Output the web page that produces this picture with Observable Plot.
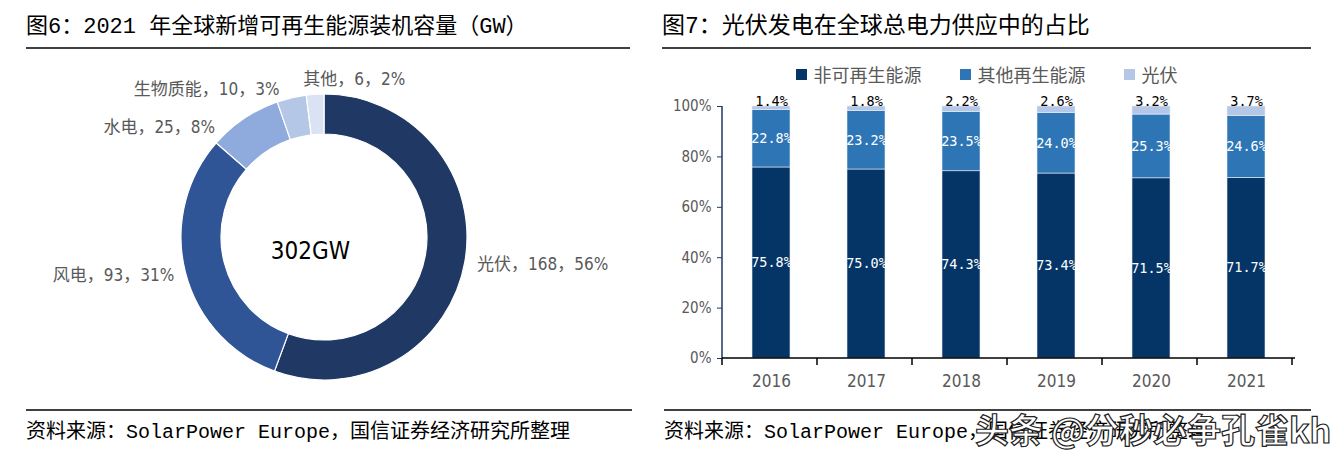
<!DOCTYPE html>
<html>
<head>
<meta charset="utf-8">
<script src="https://cdn.jsdelivr.net/npm/d3@7"></script>
<script src="https://cdn.jsdelivr.net/npm/@observablehq/plot@0.6"></script>
<style>
  html, body { margin: 0; padding: 0; background: #fff; }
  body { width: 1337px; height: 457px; position: relative; overflow: hidden;
         font-family: "DejaVu Sans Condensed", "Noto Sans CJK SC", sans-serif; }
  .abs { position: absolute; white-space: nowrap; line-height: 1; }
  .title { font-family: "Liberation Mono", "Noto Sans CJK SC", sans-serif; color: #000; }
  .rule { position: absolute; height: 2px; background: #404040; }
  .foot { font-family: "Liberation Mono", "Noto Sans CJK SC", sans-serif; font-size: 20px; color: #000; }
  .legend { display: flex; justify-content: center; align-items: center; gap: 38px;
            font-family: "Noto Sans CJK SC", sans-serif; font-size: 18px; color: #595959; }
  .legend .item { display: flex; align-items: center; gap: 7px; }
  .legend .sw { width: 11px; height: 11px; display: inline-block; }
  svg.plot, svg { background: transparent !important; overflow: visible; }
  #bars [aria-label^="y-axis"] text { fill: #595959; }
  .wm { font-family: "Noto Sans CJK SC", sans-serif; font-size: 34px; color: #fff;
        -webkit-text-stroke: 1.2px #222; font-weight: bold; }
</style>
</head>
<body>
<div class="abs title" style="left:26px; top:17px; font-size:22px;">图6：2021 年全球新增可再生能源装机容量（GW）</div>
<div class="rule" style="left:26px; top:47px; width:604px;"></div>
<div class="abs title" style="left:662px; top:16px; font-size:23px;">图7：光伏发电在全球总电力供应中的占比</div>
<div class="rule" style="left:662px; top:47px; width:649px;"></div>

<div id="donut" class="abs" style="left:24px; top:62px;"></div>
<div id="legend" class="abs legend" style="left:662px; top:65px; width:649px;"></div>
<div id="bars" class="abs" style="left:662px; top:85px;"></div>

<div class="rule" style="left:26px; top:409px; width:606px;"></div>
<div class="rule" style="left:664px; top:409px; width:647px;"></div>
<div class="abs foot" style="left:26px; top:423px;">资料来源：SolarPower Europe，国信证券经济研究所整理</div>
<div class="abs foot" style="left:664px; top:423px;">资料来源：SolarPower Europe，国信证券经济研究所整理</div>
<div class="abs wm" style="left:975px; top:412px;">头条 @分秒必争孔雀kh</div>

<script>
// ---------- Data: left donut ----------
const sources = ["光伏", "风电", "水电", "生物质能", "其他"];
const capacityGW = [168, 93, 25, 10, 6];
const sharePct = [56, 31, 8, 3, 2];
const sourceColors = ["#203864", "#2f5597", "#8faadc", "#b4c7e7", "#dae3f3"];
const totalLabel = "302GW";

// ---------- Data: right stacked bars ----------
const years = ["2016", "2017", "2018", "2019", "2020", "2021"];
const nonRenewable = [75.8, 75.0, 74.3, 73.4, 71.5, 71.7];
const otherRenewable = [22.8, 23.2, 23.5, 24.0, 25.3, 24.6];
const solarPV = [1.4, 1.8, 2.2, 2.6, 3.2, 3.7];
const seriesNames = ["非可再生能源", "其他再生能源", "光伏"];
const seriesColors = ["#053567", "#2e75b6", "#b4c7e7"];
const yTicks = [0, 20, 40, 60, 80, 100];

// ---------- Donut ----------
const R_OUT = 143, R_IN = 103, R_LABEL = 155;
const MIN_GAP = 28 * Math.PI / 180;
const donutData = sources.map((s, i) => ({name: s, value: capacityGW[i], share: sharePct[i], color: sourceColors[i]}));
const pie = d3.pie().sort(null).value(d => d.value)(donutData);
pie.forEach(p => { p.a = (p.startAngle + p.endAngle) / 2; });
// spread label angles so neighbouring labels do not collide
const byAngle = pie.slice().sort((a, b) => a.a - b.a);
for (let it = 0; it < 200; it++) {
  for (let i = 0; i < byAngle.length; i++) {
    const p = byAngle[i], q = byAngle[(i + 1) % byAngle.length];
    let diff = q.a - p.a;
    if (i === byAngle.length - 1) diff += 2 * Math.PI;
    if (diff < MIN_GAP) {
      const push = (MIN_GAP - diff) / 2;
      p.a -= push; q.a += push;
    }
  }
}
pie.forEach(p => {
  p.lx = R_LABEL * Math.sin(p.a);
  p.ly = R_LABEL * Math.cos(p.a);
  p.label = `${p.data.name}，${p.data.value}，${p.data.share}%`;
});

function ringMark(index, scales) {
  const {x, y} = scales;
  const cx = x(0), cy = y(0);
  const ro = Math.abs(x(R_OUT) - cx), ri = Math.abs(x(R_IN) - cx);
  const arc = d3.arc().innerRadius(ri).outerRadius(ro);
  const g = d3.create("svg:g").attr("transform", `translate(${cx},${cy})`);
  g.selectAll("path").data(pie).join("path")
    .attr("d", arc)
    .attr("fill", d => d.data.color)
    .attr("stroke", "#fff")
    .attr("stroke-width", 1.2);
  return g.node();
}

const labelCommon = {x: "lx", y: "ly", text: "label", fontSize: 17, fill: "#595959"};
const side = d => Math.sin(d.a);
const TH = 0.25;
const donut = Plot.plot({
  width: 600, height: 350, margin: 0,
  x: {domain: [-300, 300], axis: null},
  y: {domain: [-175, 175], axis: null},
  style: {fontFamily: "'DejaVu Sans Condensed','Noto Sans CJK SC',sans-serif", background: "transparent", overflow: "visible"},
  marks: [
    ringMark,
    Plot.text(pie, {...labelCommon, filter: d => side(d) > TH, textAnchor: "start"}),
    Plot.text(pie, {...labelCommon, filter: d => side(d) < -TH, textAnchor: "end"}),
    Plot.text(pie, {...labelCommon, filter: d => Math.abs(side(d)) <= TH, textAnchor: "middle", lineAnchor: "bottom"}),
    Plot.text([totalLabel], {x: () => 0, y: () => 0, text: d => d, dx: -14, dy: 14, fontSize: 24, fill: "#000"})
  ]
});
document.getElementById("donut").appendChild(donut);

// ---------- Legend ----------
const legend = d3.select("#legend");
seriesNames.forEach((n, i) => {
  const it = legend.append("div").attr("class", "item");
  it.append("span").attr("class", "sw").style("background", seriesColors[i]);
  it.append("span").text(n);
});

// ---------- Stacked bars ----------
const rows = [];
years.forEach((yr, i) => {
  const vals = [nonRenewable[i], otherRenewable[i], solarPV[i]];
  let acc = 0;
  vals.forEach((v, k) => {
    rows.push({year: yr, series: seriesNames[k], value: v, y1: acc, y2: acc + v,
               mid: acc + v / 2, top: k === 2});
    acc += v;
  });
});

function frameAxes(index, scales, values, dims) {
  const {x, y} = scales;
  const step = x(years[1]) - x(years[0]);
  const left = dims.marginLeft, right = dims.width - dims.marginRight;
  const y0 = y(0);
  const g = d3.create("svg:g");
  g.append("line").attr("x1", left).attr("x2", left).attr("y1", y(100)).attr("y2", y0)
    .attr("stroke", "#1f3864").attr("stroke-width", 1.5);
  g.append("line").attr("x1", left).attr("x2", right).attr("y1", y0).attr("y2", y0)
    .attr("stroke", "#000").attr("stroke-width", 1.5);
  for (let i = 0; i <= years.length; i++) {
    const xx = left + i * step;
    g.append("line").attr("x1", xx).attr("x2", xx).attr("y1", y0).attr("y2", y0 + 7)
      .attr("stroke", "#000").attr("stroke-width", 1.5);
  }
  return g.node();
}

const bars = Plot.plot({
  width: 650, height: 310,
  marginLeft: 60, marginRight: 17, marginTop: 21, marginBottom: 37,
  style: {fontFamily: "'DejaVu Sans Condensed','Noto Sans CJK SC',sans-serif", fontSize: "15px", color: "#1f3864", background: "transparent", overflow: "visible"},
  x: {domain: years, paddingInner: 0.6, paddingOuter: 0.3, axis: null},
  y: {domain: [0, 100], ticks: yTicks, tickFormat: d => d + "%", tickSize: 5, tickPadding: 6, label: null},
  color: {domain: seriesNames, range: seriesColors},
  marks: [
    Plot.rectY(rows, {x: "year", y1: "y1", y2: "y2", fill: "series", stroke: "#e8eef6", strokeWidth: 0.6}),
    Plot.text(rows, {filter: d => !d.top, x: "year", y: "mid", text: d => d.value.toFixed(1) + "%",
      fill: "#fff", fontSize: 13.5, fontFamily: "'DejaVu Sans Mono',monospace"}),
    Plot.text(rows, {filter: d => d.top, x: "year", y: "y2", text: d => d.value.toFixed(1) + "%",
      fill: "#000", dy: -5, fontSize: 13.5, fontFamily: "'DejaVu Sans Mono',monospace"}),
    Plot.text(years, {x: d => d, frameAnchor: "bottom", dy: 28, text: d => d, fontSize: 17, fill: "#595959"}),
    frameAxes
  ]
});
document.getElementById("bars").appendChild(bars);
</script>
</body>
</html>
